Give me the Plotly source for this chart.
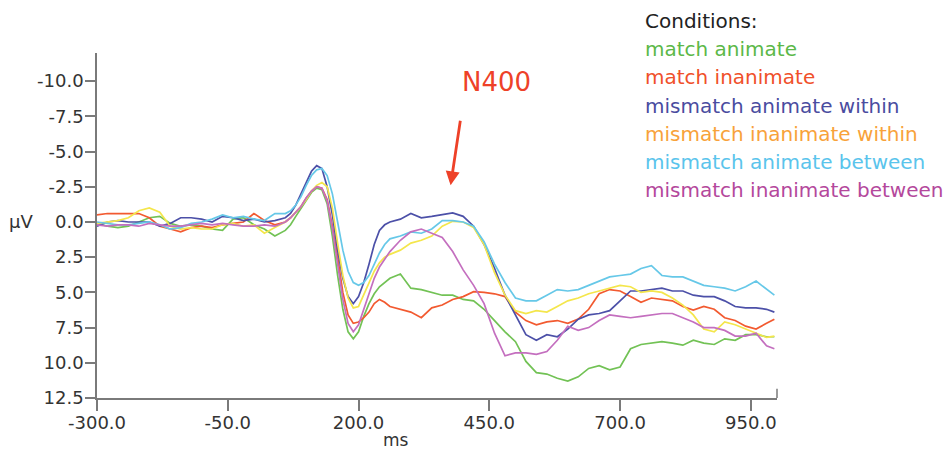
import plotly.graph_objects as go

# time points (ms)
times = [-300, -280, -260, -240, -220, -200, -180, -160, -140, -120, -100, -80, -60, -40, -20, 0, 20, 40, 60,
         70, 80, 90, 100, 110, 120, 130, 140, 150, 160, 170, 180, 190, 200, 210, 220, 230, 240, 250,
         260, 280, 300, 320, 340, 360, 380, 400, 420, 440, 460, 480, 500, 520, 540, 560, 580, 600,
         620, 640, 660, 680, 700, 720, 740, 760, 780, 800, 820, 840, 860, 880, 900, 920, 940, 960, 980, 995]

match_animate = [0.1, 0.3, 0.4, 0.3, 0.0, -0.3, -0.4, 0.1, 0.3, 0.2, 0.3, 0.5, 0.6, -0.2, -0.3, 0.2, 0.5, 1.0, 0.6,
                 0.2, -0.4, -1.0, -1.6, -2.1, -2.4, -2.3, -1.3, 1.0, 3.8, 6.2, 7.8, 8.3, 7.8, 6.7, 5.8, 5.1, 4.6, 4.3,
                 4.0, 3.7, 4.7, 4.8, 5.0, 5.2, 5.2, 5.5, 5.6, 6.2, 7.0, 7.8, 8.5, 9.9, 10.7, 10.8, 11.1, 11.3,
                 11.0, 10.4, 10.2, 10.5, 10.3, 9.0, 8.7, 8.6, 8.5, 8.6, 8.75, 8.4, 8.6, 8.7, 8.3, 8.4, 8.0, 8.0, 8.15, 8.15]

match_inanimate = [-0.5, -0.6, -0.6, -0.6, -0.6, -0.3, 0.3, 0.5, 0.7, 0.4, 0.3, 0.4, 0.2, 0.1, 0.0, -0.6, -0.1, 0.2, 0.0,
                   -0.3, -0.7, -1.1, -1.7, -2.2, -2.5, -2.4, -1.6, 0.3, 2.5, 5.0, 6.6, 7.2, 7.1, 6.8, 6.4, 5.8, 5.5, 5.7,
                   6.0, 6.2, 6.4, 6.8, 6.1, 5.9, 5.5, 5.3, 4.95, 5.0, 5.1, 5.3, 6.4, 7.0, 7.3, 7.1, 7.0, 7.2,
                   6.9, 6.2, 5.1, 4.8, 4.9, 5.3, 5.7, 5.4, 5.5, 5.6, 6.0, 6.25, 6.0, 6.2, 6.8, 7.0, 7.4, 7.6, 7.2, 6.9]

mismatch_animate_within = [0.3, 0.0, -0.1, 0.0, 0.0, 0.0, 0.3, 0.1, -0.3, -0.3, -0.2, 0.0, -0.4, -0.3, -0.1, -0.2, 0.0, -0.1, -0.3,
                           -0.6, -1.2, -2.0, -2.9, -3.6, -4.0, -3.8, -2.5, -0.5, 2.0, 4.0, 5.3, 5.8, 5.3, 4.3, 3.0, 1.6, 0.6, 0.2,
                           0.0, -0.2, -0.6, -0.3, -0.4, -0.5, -0.65, -0.4, 0.3, 1.6, 3.3, 5.2, 6.6, 8.0, 8.4, 8.0, 8.15, 7.6,
                           6.9, 6.6, 6.5, 6.3, 5.6, 4.9, 4.9, 4.8, 4.7, 4.9, 4.9, 5.2, 5.3, 5.3, 5.6, 6.0, 6.1, 6.1, 6.2, 6.4]

mismatch_inanimate_within = [0.1, 0.0, -0.1, -0.3, -0.8, -1.0, -0.7, 0.3, 0.5, 0.4, 0.5, 0.5, 0.2, 0.1, 0.3, 0.2, 0.8, 0.4, 0.0,
                             -0.3, -0.7, -1.1, -1.6, -2.2, -2.6, -2.8, -2.5, -1.0, 1.5, 3.8, 5.4, 6.1, 6.0, 5.2, 4.3, 3.5, 2.9, 2.5,
                             2.3, 2.0, 1.5, 1.3, 1.0, 0.3, -0.05, 0.0, 0.4, 1.6, 3.6, 5.2, 6.3, 6.5, 6.3, 6.4, 6.0, 5.6,
                             5.4, 5.1, 4.9, 4.7, 4.5, 4.6, 5.0, 4.9, 5.0, 5.4, 5.9, 6.6, 7.6, 7.8, 7.1, 7.3, 7.6, 7.9, 8.2, 8.1]

mismatch_animate_between = [0.0, 0.1, 0.2, 0.2, 0.1, 0.0, 0.2, 0.5, 0.4, 0.1, 0.0, -0.2, -0.5, -0.3, -0.4, -0.2, -0.1, -0.6, -0.6,
                            -0.8, -1.2, -1.8, -2.6, -3.3, -3.7, -3.8, -3.3, -2.0, 0.0, 2.0, 3.5, 4.3, 4.5, 4.3, 3.8, 3.0, 2.2, 1.6,
                            1.2, 1.0, 0.7, 0.8, 0.5, -0.1, -0.1, 0.0, 0.3, 1.4, 3.0, 4.3, 5.4, 5.6, 5.6, 5.2, 4.8, 4.9,
                            4.8, 4.5, 4.2, 3.9, 3.8, 3.7, 3.3, 3.1, 3.8, 3.9, 3.9, 4.2, 4.5, 4.6, 4.7, 4.9, 4.6, 4.2, 4.8, 5.2]

mismatch_inanimate_between = [0.2, 0.3, 0.2, 0.2, 0.3, 0.1, 0.2, 0.3, 0.3, 0.2, 0.1, 0.2, 0.1, 0.2, 0.3, 0.3, 0.2, 0.3, 0.0,
                              -0.3, -0.7, -1.1, -1.7, -2.2, -2.5, -2.4, -1.5, 0.5, 3.0, 5.5, 7.2, 7.8, 7.3, 6.2, 5.0, 4.0, 3.2, 2.6,
                              2.1, 1.3, 0.7, 0.5, 0.8, 1.1, 2.1, 3.4, 4.5, 5.8, 7.9, 9.5, 9.3, 9.3, 9.4, 9.2, 8.4, 7.4,
                              7.7, 7.5, 7.0, 6.6, 6.7, 6.8, 6.7, 6.6, 6.5, 6.5, 6.8, 7.1, 7.5, 7.5, 7.7, 8.1, 8.1, 7.9, 8.8, 9.0]

conditions = ["match animate", "match inanimate", "mismatch animate within",
              "mismatch inanimate within", "mismatch animate between", "mismatch inanimate between"]
series = [match_animate, match_inanimate, mismatch_animate_within,
          mismatch_inanimate_within, mismatch_animate_between, mismatch_inanimate_between]
line_colors = ["#72c255", "#f25a30", "#4c50a8", "#f4e64c", "#66c8e8", "#c46fbf"]
text_colors = ["#5cb848", "#f0502a", "#4a4ca0", "#f8a23a", "#5ac4ec", "#b4489c"]

x_ticks = [-300, -50, 200, 450, 700, 950]
y_ticks = [-10.0, -7.5, -5.0, -2.5, 0.0, 2.5, 5.0, 7.5, 10.0, 12.5]

FONT = "DejaVu Sans, Verdana, sans-serif"

fig = go.Figure()
for name, vals, col in zip(conditions, series, line_colors):
    fig.add_trace(go.Scatter(x=times, y=vals, mode="lines", name=name,
                             line=dict(color=col, width=1.7), showlegend=False))

fig.update_layout(
    width=948, height=457,
    margin=dict(l=97, r=171, t=53, b=59),
    paper_bgcolor="white", plot_bgcolor="white",
    font=dict(family=FONT, size=18, color="#333333"),
)
fig.update_xaxes(range=[-300, 1000], tickvals=x_ticks, ticktext=[f"{v:.1f}" for v in x_ticks],
                 showgrid=False, zeroline=False, showline=True, linecolor="#7a7a7a", linewidth=1.5,
                 ticks="outside", ticklen=11, tickwidth=1.5, tickcolor="#7a7a7a", ticklabelstandoff=-3,
                 tickfont=dict(family=FONT, size=18, color="#333333"))
fig.update_yaxes(range=[12.5, -12], tickvals=y_ticks, ticktext=[f"{v:.1f}" for v in y_ticks],
                 showgrid=False, zeroline=False, showline=True, linecolor="#7a7a7a", linewidth=1.5,
                 ticks="outside", ticklen=10, tickwidth=1.5, tickcolor="#7a7a7a", ticklabelstandoff=-2,
                 tickfont=dict(family=FONT, size=18, color="#333333"))

# end cap at right of x axis
fig.add_shape(type="line", xref="paper", yref="paper", x0=1, x1=1, y0=0, y1=0.027,
              line=dict(color="#7a7a7a", width=1.5))

# axis titles
fig.add_annotation(text="ms", xref="paper", yref="paper", x=0.44, y=-0.122,
                   xanchor="center", yanchor="middle",
                   showarrow=False, font=dict(family=FONT, size=17, color="#333333"))
fig.add_annotation(text="µV", xref="paper", yref="paper", x=-0.112, y=0.511,
                   xanchor="center", yanchor="middle",
                   showarrow=False, font=dict(family=FONT, size=18, color="#333333"))

# legend-like colored text
fig.add_annotation(text="Conditions:", xref="paper", yref="paper", x=0.803, y=(398 - 20.7) / 345,
                   xanchor="left", yanchor="middle", showarrow=False,
                   font=dict(family=FONT, size=20, color="#222222"))
for i, (name, col) in enumerate(zip(conditions, text_colors)):
    ypix = 49.3 + i * 28.2
    fig.add_annotation(text=name, xref="paper", yref="paper", x=0.803, y=(398 - ypix) / 345,
                       xanchor="left", yanchor="middle", showarrow=False,
                       font=dict(family=FONT, size=20, color=col))

# N400 label and arrow
fig.add_annotation(text="N400", xref="paper", yref="paper", x=0.587, y=0.917,
                   xanchor="center", yanchor="middle",
                   showarrow=False, font=dict(family=FONT, size=26, color="#ee4128"))
fig.add_annotation(text="", x=376, y=-2.6, ax=395, ay=-7.3, axref="x", ayref="y",
                   showarrow=True, arrowhead=2, arrowsize=1, arrowwidth=2.8, arrowcolor="#ee4128")

fig.write_html("out.html", config={"displayModeBar": False},
               post_script="document.body.style.margin='0px';")
